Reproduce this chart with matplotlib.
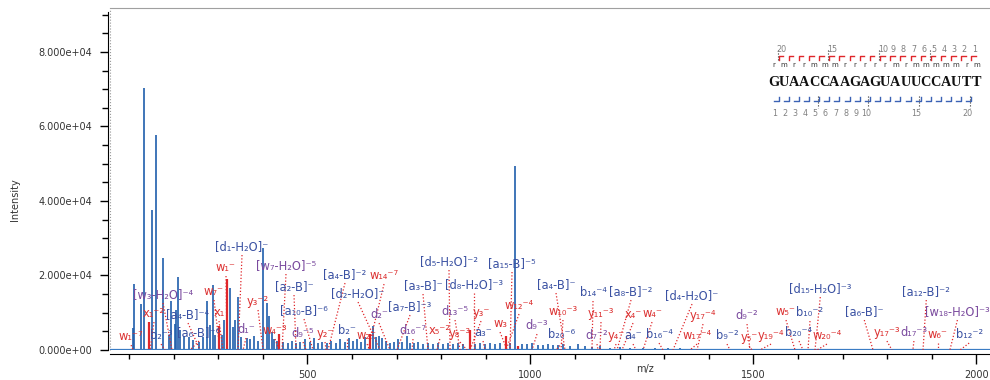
import matplotlib
matplotlib.use('Agg')
import matplotlib.pyplot as plt
from matplotlib.ticker import MultipleLocator, FuncFormatter

# ---- spectrum peaks (m/z, intensity) ----
blue_mz = [110.0, 112.5, 128.2, 134.5, 151.1, 160.0, 176.9, 190.6, 194.4, 202.7,
           205.6, 210.1, 214.6, 224.2, 235.4, 243.7, 257.2, 266.1, 274.4, 281.8,
           288.6, 293.0, 308.7, 314.3, 326.7, 334.1, 338.6, 344.0, 351.3, 364.1,
           371.5, 380.5, 389.5, 401.1, 408.5, 413.0, 420.2, 425.3, 431.4, 445.5,
           456.7, 465.7, 474.7, 483.6, 494.8, 506.1, 515.0, 524.0, 533.0, 544.2,
           553.1, 564.3, 573.3, 584.5, 593.5, 602.5, 611.4, 620.4, 629.4, 648.0,
           654.0, 660.8, 667.5, 676.5, 685.4, 694.4, 703.4, 712.3, 722.9, 730.3,
           739.2, 748.2, 759.4, 770.6, 781.8, 793.0, 804.3, 815.5, 826.7, 837.9,
           849.1, 876.0, 887.2, 898.4, 909.6, 920.9, 932.1, 954.5, 965.7, 981.4,
           992.6, 1003.8, 1017.3, 1028.5, 1039.7, 1050.9, 1062.1, 1073.3, 1089.0, 1107.0,
           1122.6, 1138.3, 1156.3, 1178.7, 1201.1, 1223.5, 1252.7, 1279.6, 1308.7, 1335.6]
blue_int = [6000, 17850, 12480, 70200, 37540, 57590, 24570, 4160, 13100, 6850,
            10870, 19650, 5500, 3890, 3620, 2800, 2280, 3360, 13100, 6580,
            17320, 4160, 4160, 8000, 16700, 6040, 7920, 14180, 3360, 3280,
            2820, 3890, 2550, 27250, 12750, 9080, 4700, 2820, 2550, 2280,
            2010, 2550, 1750, 2280, 2820, 2280, 3090, 2010, 2280, 1750,
            2550, 2010, 2820, 2280, 3090, 2550, 2820, 2280, 3360, 6390,
            3360, 3890, 3090, 2550, 2010, 2280, 2820, 2280, 3700, 2010,
            1750, 2280, 1480, 2010, 1480, 1750, 1480, 2010, 1480, 1750,
            1480, 1480, 1750, 1480, 1750, 1480, 1750, 2010, 49270, 1480,
            1480, 1750, 1210, 1210, 1480, 1210, 1210, 1480, 940, 1480,
            940, 800, 940, 670, 800, 670, 670, 670, 540, 540]

red_mz = [145.7, 301.3, 319.7, 436.5, 640.6, 864.8, 945.5, 972.4]
red_int = [7400, 6400, 19100, 4200, 4200, 5500, 3700, 1200]

# ---- fragment annotations: label, colour kind, label m/z, label height, matched m/z ----
ions = [
    ("[d₁-H₂O]⁻", "b", 353.6, 27790, 344.6),
    ("w₁⁻", "r", 317.7, 22150, 320.0),
    ("[w₇-H₂O]⁻⁵", "p", 452.2, 22690, 443.3),
    ("[a₂-B]⁻", "b", 470.2, 17050, 474.7),
    ("[a₄-B]⁻²", "b", 584.5, 20270, 546.4),
    ("w₁₄⁻⁷", "r", 672.0, 20000, 636.1),
    ("[d₂-H₂O]⁻", "b", 613.7, 15170, 663.0),
    ("[a₁₀-B]⁻⁶", "b", 492.6, 10610, 512.8),
    ("y₃⁻²", "r", 389.5, 13030, 400.7),
    ("w₇⁻", "r", 290.8, 15710, 304.3),
    ("x₁", "r", 302.0, 10070, 311.0),
    ("[a₄-B]⁻⁴", "b", 232.5, 9530, 259.4),
    ("x₁⁻²", "r", 156.3, 9800, 147.3),
    ("[w₃-H₂O]⁻⁴", "p", 176.5, 14900, 196.6),
    ("w₁⁻⁷", "r", 104.9, 3620, 109.1),
    ("b₂⁻³", "b", 172.0, 3890, 180.9),
    ("[a₆-B]⁻⁶", "b", 257.2, 4700, 237.0),
    ("d₁⁻", "p", 362.6, 5500, 355.8),
    ("w₄⁻³", "r", 427.6, 5240, 436.5),
    ("d₉⁻⁵", "p", 490.4, 4430, 497.1),
    ("y₂⁻", "r", 539.7, 4430, 541.9),
    ("b₂⁻", "b", 589.0, 5240, 589.0),
    ("w₂⁻", "r", 633.9, 3890, 640.6),
    ("d₂⁻", "p", 660.8, 9530, 685.4),
    ("[a₇-B]⁻³", "b", 730.3, 11680, 701.1),
    ("[d₅-H₂O]⁻²", "b", 817.7, 23760, 820.0),
    ("[a₁₅-B]⁻⁵", "b", 959.0, 23230, 954.5),
    ("[a₃-B]⁻", "b", 759.4, 17320, 770.6),
    ("[d₈-H₂O]⁻³", "b", 873.8, 17590, 873.8),
    ("d₁₆⁻⁷", "p", 737.0, 5240, 734.8),
    ("x₅⁻²", "r", 797.0, 5240, 790.8),
    ("d₁₃⁻⁵", "p", 831.2, 10340, 842.4),
    ("y₃⁻", "r", 889.5, 10070, 864.8),
    ("y₈⁻³", "r", 842.4, 4430, 858.1),
    ("a₃⁻", "b", 894.0, 4700, 898.4),
    ("w₃", "r", 932.1, 7110, 947.8),
    ("w₁₂⁻⁴", "r", 974.7, 11950, 945.5),
    ("d₉⁻³", "p", 1015.0, 6580, 1003.8),
    ("[a₄-B]⁻", "b", 1057.6, 17590, 1077.8),
    ("w₁₀⁻³", "r", 1073.3, 10340, 1068.8),
    ("b₂₀⁻⁶", "b", 1071.1, 4160, 1057.6),
    ("b₁₄⁻⁴", "b", 1140.6, 15440, 1138.3),
    ("[a₈-B]⁻²", "b", 1225.8, 15710, 1194.4),
    ("y₁₁⁻³", "r", 1158.5, 9800, 1156.3),
    ("x₄⁻", "r", 1230.3, 9530, 1205.6),
    ("w₄⁻", "r", 1272.9, 9800, 1252.7),
    ("d₇⁻²", "p", 1149.5, 3890, 1151.8),
    ("y₄⁻", "r", 1192.2, 3890, 1187.7),
    ("a₄⁻", "b", 1230.3, 3890, 1237.0),
    ("b₁₆⁻⁴", "b", 1288.6, 4160, 1297.5),
    ("[d₄-H₂O]⁻", "b", 1362.6, 14630, 1319.9),
    ("w₁₇⁻⁴", "r", 1373.8, 3890, 1358.1),
    ("y₁₇⁻⁴", "r", 1387.2, 9260, 1373.8),
    ("b₉⁻²", "b", 1441.0, 3890, 1447.8),
    ("d₉⁻²", "p", 1485.9, 9260, 1492.6),
    ("y₅⁻", "r", 1490.4, 3360, 1497.1),
    ("y₁₉⁻⁴", "r", 1539.7, 3890, 1515.0),
    ("w₅⁻", "r", 1573.3, 10340, 1593.5),
    ("b₁₀⁻²", "b", 1627.1, 10070, 1622.6),
    ("[d₁₅-H₂O]⁻³", "b", 1650.2, 16510, 1638.3),
    ("b₂₀⁻⁴", "b", 1602.5, 4700, 1611.4),
    ("w₂₀⁻⁴", "r", 1665.0, 3890, 1642.8),
    ("[a₆-B]⁻", "b", 1748.8, 10340, 1768.4),
    ("[a₁₂-B]⁻²", "b", 1887.8, 15710, 1880.5),
    ("y₁₇⁻³", "r", 1799.6, 4700, 1810.8),
    ("d₁₇⁻³", "p", 1860.1, 4700, 1857.8),
    ("w₆⁻", "r", 1913.9, 4160, 1913.9),
    ("[w₁₈-H₂O]⁻³", "p", 1957.6, 10340, 1940.8),
    ("b₁₂⁻²", "b", 1983.9, 4160, 1963.6),
]

# ---- sequence map ----
sequence = "GUAACCAAGAGUAUUCCAUTT"
sugar_marks = "rmrrmmmrrrrrmrmmmmmrm"
top_numbers = [1, 2, 3, 4, 5, 6, 7, 8, 9, 10, 15, 20]
bottom_numbers = [1, 2, 3, 4, 5, 6, 7, 8, 9, 10, 15, 20]

SPEC_BLUE = '#1f5eab'
BASE_BLUE = '#3a7cc4'
RED = '#e0262a'
kind_colors = {'b': '#3b52a3', 'r': '#dc3131', 'p': '#7a4a9e'}

fig = plt.figure(figsize=(9.9, 3.8), dpi=100)
ax = fig.add_axes([110 / 990, 30 / 380, 880 / 990, 342 / 380])

ax.set_xlim(57.6, 2030.7)
ax.set_ylim(0, 91800)

ax.vlines(blue_mz, 0, blue_int, color=SPEC_BLUE, lw=1.2, zorder=2)
ax.vlines(red_mz, 0, red_int, color=RED, lw=1.6, zorder=3)
ax.axhline(0, color=BASE_BLUE, lw=1.6, zorder=3)

for label, kind, x, y, target in ions:
    ax.plot([x, target], [y - 2300, 0], ls=(0, (1, 1.6)), color=RED, lw=0.9, zorder=4)
    ax.text(x, y, label, color=kind_colors[kind], fontsize=8.3,
            ha='center', va='center', zorder=5)

# axes styling
ax.yaxis.set_major_locator(MultipleLocator(20000))
ax.yaxis.set_minor_locator(MultipleLocator(5000))
ax.yaxis.set_major_formatter(FuncFormatter(lambda v, p: f'{v:.3e}'))
ax.xaxis.set_major_locator(MultipleLocator(500))
ax.xaxis.set_minor_locator(MultipleLocator(100))
ax.tick_params(axis='y', which='major', length=6, width=1, pad=5.5, labelsize=7, labelcolor='#333333')
ax.tick_params(axis='y', which='minor', length=4.5, width=1)
ax.tick_params(axis='x', which='major', length=7.2, width=1, pad=4, labelsize=7, labelcolor='#333333')
ax.tick_params(axis='x', which='minor', length=3.6, width=1)

ax.spines['left'].set_position(('outward', 1.5))
ax.spines['left'].set_bounds(0, 90600)
ax.spines['bottom'].set_position(('outward', 3))
ax.spines['right'].set_visible(False)
ax.spines['top'].set_color('#a0a0a0')
ax.spines['top'].set_linewidth(0.8)
ax.plot([0, 0], [0, 1], transform=ax.transAxes, ls=':', color='#999999', lw=0.8, clip_on=False)

ax.set_xlabel('m/z', fontsize=7, color='#333333')
ax.xaxis.set_label_coords(0.608, -0.0556)
ax.xaxis.label.set_va('center')
ax.set_ylabel('Intensity', fontsize=7, color='#333333')
ax.yaxis.set_label_coords(-0.108, 0.4386)
ax.yaxis.label.set_va('center')

# sequence inset (coordinates in picture pixels)
iax = fig.add_axes([760 / 990, 260 / 380, 230 / 990, 80 / 380])
iax.set_xlim(760, 990)
iax.set_ylim(120, 40)
iax.axis('off')

x_first, step = 773.5, 10.15
n = len(sequence)
for i, ch in enumerate(sequence):
    cx = x_first + step * i
    iax.text(cx, 82, ch, fontsize=10.3, fontweight='bold', family='Liberation Serif',
             ha='center', va='center', color='#111111')
    iax.text(cx, 65, sugar_marks[i], fontsize=5, ha='center', va='center', color='#333333')

for k in range(1, n):
    # 3' fragments (top, red)
    bt = x_first + step * (n - 1 - k) + step / 2
    iax.plot([bt, bt, bt + 4.5], [59.5, 55.5, 55.5], color=RED, lw=1)
    if k in top_numbers:
        iax.text(bt + 3, 50, str(k), fontsize=5.8, color='#808080', ha='center', va='center')
    if k % 5 == 0:
        iax.plot([bt - 1, bt - 1], [50, 60], ls=':', color='#333333', lw=0.8)
    # 5' fragments (bottom, blue)
    bb = x_first + step * (k - 1) + step / 2
    iax.plot([bb - 5, bb, bb], [101, 101, 97], color='#3b62b5', lw=1)
    if k in bottom_numbers:
        iax.text(bb - 4, 113.5, str(k), fontsize=5.8, color='#808080', ha='center', va='center')
    if k % 5 == 0:
        iax.plot([bb - 1.5, bb - 1.5], [96, 108], ls=':', color='#333333', lw=0.8)

fig.savefig('out.png', dpi=100)
